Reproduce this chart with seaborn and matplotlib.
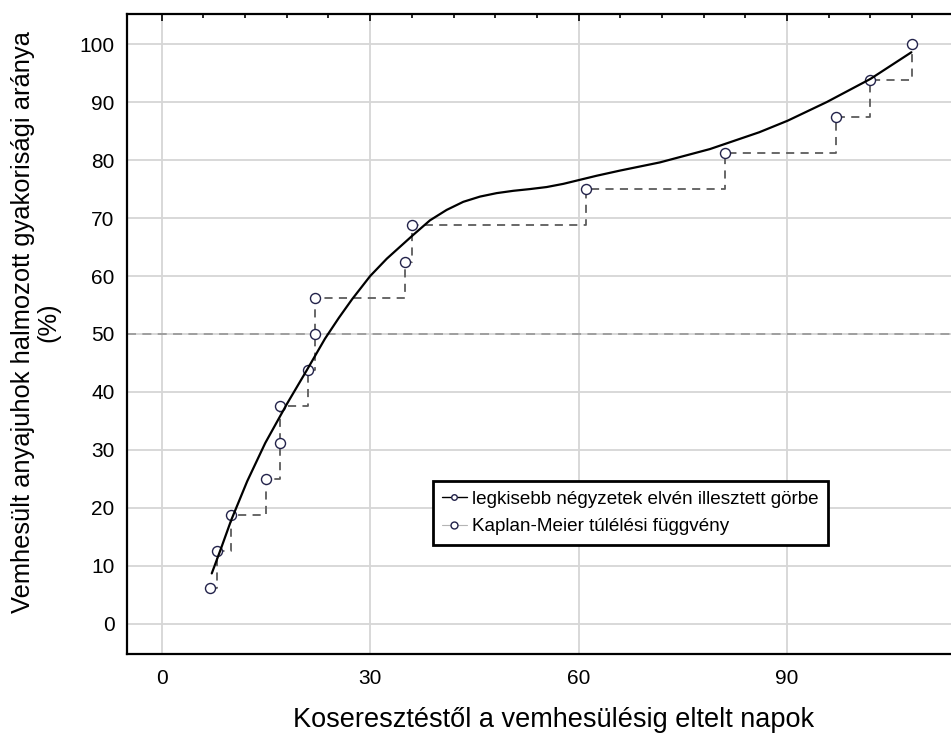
import pandas as pd
import matplotlib.pyplot as plt
import seaborn as sns
from matplotlib.lines import Line2D
from matplotlib.ticker import MultipleLocator

# Kaplan-Meier steps (days, cumulative %)
km_days = [7, 8, 10, 15, 17, 17, 21, 22, 22, 35, 36, 61, 81, 97, 102, 108]
km_pct = [6.25, 12.5, 18.75, 25.0, 31.25, 37.5, 43.75, 50.0, 56.25, 62.5,
          68.75, 75.0, 81.25, 87.5, 93.75, 100.0]

# fitted curve
fit_days = [7.2, 8.5, 10.0, 12.3, 14.9, 18.0, 20.9, 23.5, 25.5, 27.4, 30.0,
            32.4, 36.2, 38.6, 41.0, 43.4, 45.8, 48.2, 50.6, 53.0, 55.4, 57.8,
            60.2, 62.6, 66.0, 71.7, 78.9, 86.0, 90.1, 95.7, 102.0, 107.9]
fit_pct = [8.7, 12.9, 17.9, 24.6, 31.2, 37.9, 43.8, 49.2, 52.8, 56.0, 60.0,
           63.0, 67.1, 69.6, 71.4, 72.8, 73.7, 74.3, 74.7, 75.0, 75.35, 75.9,
           76.6, 77.3, 78.2, 79.6, 81.9, 84.8, 86.8, 90.0, 94.0, 98.6]

x_ticks = [0, 30, 60, 90]
y_ticks = [0, 10, 20, 30, 40, 50, 60, 70, 80, 90, 100]

km = pd.DataFrame({"nap": km_days, "arany": km_pct})
fit = pd.DataFrame({"nap": fit_days, "arany": fit_pct})

sns.set_style("white")
plt.rcParams["font.family"] = ["Liberation Sans", "DejaVu Sans"]
plt.rcParams["text.color"] = "black"
plt.rcParams["axes.labelcolor"] = "black"
plt.rcParams["xtick.color"] = "black"
plt.rcParams["ytick.color"] = "black"

fig = plt.figure(figsize=(9.51, 7.34), dpi=100)
ax = fig.add_axes([127 / 951, 1 - 654 / 734, 1 - 127 / 951, 640 / 734])

ax.axhline(50, color="#9a9a9a", lw=1.3, ls=(0, (5, 3.5)), zorder=2)

sns.lineplot(data=km, x="nap", y="arany", ax=ax, estimator=None, sort=False,
             drawstyle="steps-post", color="#5c5c5c", lw=1.3,
             ls=(0, (4.5, 3.5)), zorder=3)
sns.scatterplot(data=km, x="nap", y="arany", ax=ax, s=52, marker="o",
                facecolor="white", edgecolor="#22224a", linewidth=1.0,
                zorder=4)
sns.lineplot(data=fit, x="nap", y="arany", ax=ax, estimator=None, sort=False,
             color="black", lw=1.6, zorder=5)

ax.set_xlim(-5, 113.6)
ax.set_ylim(-5.2, 105.2)
ax.set_xticks(x_ticks)
ax.set_yticks(y_ticks)
ax.xaxis.set_minor_locator(MultipleLocator(6))
ax.yaxis.set_minor_locator(MultipleLocator(2.5))
ax.grid(True, which="major", color="#d6d6d6", lw=1.3, zorder=0)
ax.set_axisbelow(True)

for side in ["left", "bottom", "top"]:
    ax.spines[side].set_linewidth(1.6)
    ax.spines[side].set_color("black")
ax.spines["right"].set_visible(False)

ax.tick_params(which="both", direction="in", top=True, right=False,
               labelsize=15, color="black", width=1.2)
ax.tick_params(which="major", length=5)
ax.tick_params(which="minor", length=3)
ax.tick_params(axis="x", pad=11)
ax.tick_params(axis="y", pad=9)

ax.set_xlabel("Koseresztéstől a vemhesülésig eltelt napok", fontsize=19.5)
ax.xaxis.set_label_coords(0.518, -0.103)
ax.xaxis.label.set_va("center")
ax.set_ylabel("Vemhesült anyajuhok halmozott gyakorisági aránya\n(%)",
              fontsize=18.4, linespacing=1.05)
ax.yaxis.set_label_coords(-0.111, 0.519)
ax.yaxis.label.set_va("center")

handles = [
    Line2D([], [], color="black", lw=1.0, marker="o", ms=4,
           mfc="white", mec="#22224a"),
    Line2D([], [], color="#b5b5b5", lw=0.8, marker="o", ms=5,
           mfc="white", mec="#22224a"),
]
labels = ["legkisebb négyzetek elvén illesztett görbe",
          "Kaplan-Meier túlélési függvény"]
leg = ax.legend(handles, labels, loc="upper left",
                bbox_to_anchor=(0.371, 0.270), borderaxespad=0,
                fontsize=13.6, frameon=True, fancybox=False,
                handlelength=1.3, handletextpad=0.3, borderpad=0.5,
                labelspacing=0.55)
leg.get_frame().set_edgecolor("black")
leg.get_frame().set_linewidth(2)
leg.get_frame().set_alpha(1)

fig.savefig("out.png", dpi=100)
